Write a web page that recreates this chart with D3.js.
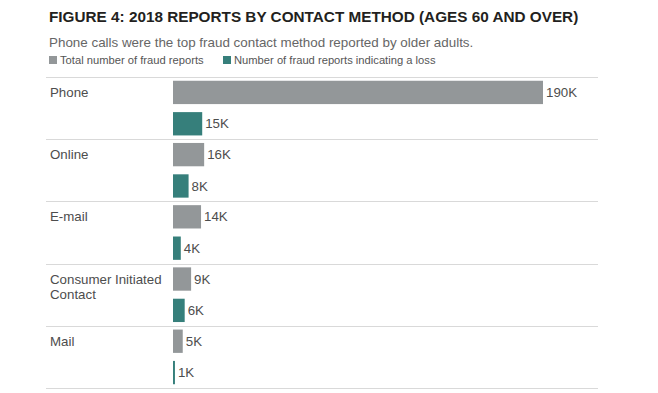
<!DOCTYPE html>
<html>
<head>
<meta charset="utf-8">
<script src="https://cdn.jsdelivr.net/npm/d3@7"></script>
<style>
  body { margin: 0; background: #ffffff; }
  svg text { font-family: "Liberation Sans", Arial, sans-serif; }
</style>
</head>
<body>
<div id="chart"></div>
<script>
// contact methods, top to bottom
var methods = ["Phone", "Online", "E-mail", "Consumer Initiated Contact", "Mail"];
// thousands of reports
var totalReports = [190, 16, 14.4, 9.3, 5];
var lossReports = [15, 8, 4, 6, 1];
var seriesNames = ["Total number of fraud reports", "Number of fraud reports indicating a loss"];
var seriesKeys = ["total", "loss"];
var seriesColors = ["#939799", "#367f7b"];

var rows = methods.map(function (m, i) {
    return {method: m, total: totalReports[i], loss: lossReports[i]};
});

var svg = d3.select("#chart")
    .append("svg")
    .attr("width", 658)
    .attr("height", 393);

// header
svg.append("text")
    .attr("x", 49)
    .attr("y", 22)
    .attr("font-size", "15.3px")
    .attr("font-weight", 700)
    .attr("fill", "#231f20")
    .text("FIGURE 4: 2018 REPORTS BY CONTACT METHOD (AGES 60 AND OVER)");

svg.append("text")
    .attr("x", 49)
    .attr("y", 47)
    .attr("font-size", "13.4px")
    .attr("fill", "#666666")
    .text("Phone calls were the top fraud contact method reported by older adults.");

var legend = svg.append("g");
var legendX = [49, 223];
var legendItem = legend.selectAll(".legendItem")
    .data(seriesNames)
    .enter()
    .append("g")
        .attr("class", "legendItem")
        .attr("transform", function (d, i) {
            return "translate(" + legendX[i] + ",56)";
        });

legendItem.append("rect")
    .attr("width", 8)
    .attr("height", 8)
    .attr("fill", function (d, i) { return seriesColors[i]; });

legendItem.append("text")
    .attr("x", 11)
    .attr("y", 8)
    .attr("font-size", "11.2px")
    .attr("fill", "#555555")
    .text(function (d) { return d; });

// scales
var y = d3.scaleBand()
    .domain(methods)
    .range([77, 388]);

var yInner = d3.scaleBand()
    .domain(seriesKeys)
    .range([0, y.bandwidth()])
    .paddingInner(0.256)
    .paddingOuter(0.12);

var x = d3.scaleLinear()
    .domain([0, 190])
    .range([173, 543]);

var color = d3.scaleOrdinal()
    .domain(seriesKeys)
    .range(seriesColors);

// separator lines
var lineYs = methods.map(function (m) { return y(m); }).concat([y.range()[1]]);
svg.append("g")
    .selectAll("line")
    .data(lineYs)
    .enter()
    .append("line")
    .attr("x1", 46)
    .attr("x2", 598)
    .attr("y1", function (d) { return Math.round(d) + 0.5; })
    .attr("y2", function (d) { return Math.round(d) + 0.5; })
    .attr("stroke", "#d9d9d9")
    .attr("stroke-width", 1);

var group = svg.append("g")
    .selectAll(".group")
    .data(rows)
    .enter()
    .append("g")
        .attr("class", "group")
        .attr("transform", function (d) {
            return "translate(0," + y(d.method) + ")";
        });

// category labels, wrapped after two words
group.append("text")
    .attr("x", 50)
    .attr("y", yInner("total") + yInner.bandwidth() / 2)
    .attr("font-size", "13.3px")
    .attr("fill", "#4d4d4d")
    .each(function (d) {
        var words = d.method.split(" ");
        var lines = words.length > 2 ? [words.slice(0, 2).join(" "), words.slice(2).join(" ")] : [d.method];
        var t = d3.select(this);
        lines.forEach(function (l, i) {
            t.append("tspan")
                .attr("x", 50)
                .attr("dy", i == 0 ? "0.35em" : "15px")
                .text(l);
        });
    });

var bar = group.selectAll(".bar")
    .data(function (d) {
        return seriesKeys.map(function (k) { return {key: k, value: d[k]}; });
    })
    .enter()
    .append("g")
        .attr("class", "bar");

bar.append("rect")
    .attr("x", x(0))
    .attr("y", function (d) { return yInner(d.key); })
    .attr("width", function (d) { return x(d.value) - x(0); })
    .attr("height", yInner.bandwidth())
    .attr("fill", function (d) { return color(d.key); });

bar.append("text")
    .attr("x", function (d) { return x(d.value) + 3; })
    .attr("y", function (d) { return yInner(d.key) + yInner.bandwidth() / 2; })
    .attr("dy", "0.35em")
    .attr("font-size", "13.3px")
    .attr("fill", "#4d4d4d")
    .text(function (d) { return Math.round(d.value) + "K"; });
</script>
</body>
</html>
